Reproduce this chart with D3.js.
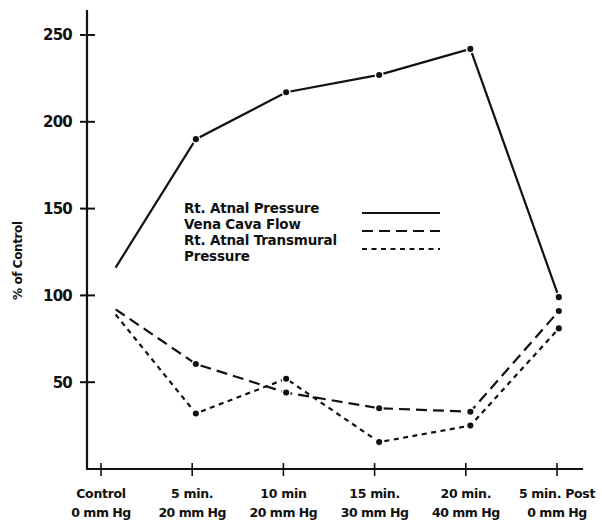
<!DOCTYPE html>
<html>
<head>
<meta charset="utf-8">
<script src="https://cdn.jsdelivr.net/npm/d3@7"></script>
<style>
  body { margin: 0; background: #fff; }
  svg { display: block; }
  text { font-family: "DejaVu Sans", "Liberation Sans", sans-serif; font-weight: bold; fill: #111; }
</style>
</head>
<body>
<svg id="chart" width="602" height="531"></svg>
<script>
// Stage positions on the x axis (index units); control readings sit just right of the tick
const stagePos = [0.16, 1.04, 2.03, 3.05, 4.05, 5.02];
const tickLines1 = ["Control", "5 min.", "10 min", "15 min.", "20 min.", "5 min. Post"];
const tickLines2 = ["0 mm Hg", "20 mm Hg", "20 mm Hg", "30 mm Hg", "40 mm Hg", "0 mm Hg"];
const yTicks = [50, 100, 150, 200, 250];

const atrialPressure = [116, 190, 217, 227, 242, 99];
const venaCavaFlow   = [92, 60.5, 44, 35, 33, 91];
const transmural     = [89, 32, 52, 15.5, 25, 81];

const seriesNames = ["Rt. Atnal Pressure", "Vena Cava Flow", "Rt. Atnal Transmural"];
const seriesDash  = [null, "11,6", "5,4.5"];
const seriesValues = [atrialPressure, venaCavaFlow, transmural];

const svg = d3.select("#chart");
const ink = "#111";

const x = d3.scaleLinear().domain([0, 5]).range([101, 557]);
const y = d3.scaleLinear().domain([0, 250]).range([469, 35]);

// y axis
svg.append("line").attr("x1", 87).attr("x2", 87).attr("y1", 10).attr("y2", y(0))
  .attr("stroke", ink).attr("stroke-width", 2.2);
const yt = svg.append("g").selectAll("g").data(yTicks).join("g")
  .attr("transform", d => `translate(0,${y(d)})`);
yt.append("line").attr("x1", 80).attr("x2", 95).attr("stroke", ink).attr("stroke-width", 2);
yt.append("text").attr("x", 72).attr("dy", "0.36em").attr("text-anchor", "end")
  .attr("font-size", 15).attr("letter-spacing", -0.8).text(d => d);

svg.append("text")
  .attr("transform", `translate(22,${y(120)}) rotate(-90)`)
  .attr("text-anchor", "middle").attr("font-size", 12).attr("letter-spacing", -0.4)
  .text("% of Control");

// x axis
svg.append("line").attr("x1", 86).attr("x2", 583).attr("y1", y(0)).attr("y2", y(0))
  .attr("stroke", ink).attr("stroke-width", 2);
const xt = svg.append("g").selectAll("g").data(d3.range(6)).join("g")
  .attr("transform", d => `translate(${x(d)},${y(0)})`);
xt.append("line").attr("y1", -6).attr("y2", 7).attr("stroke", ink).attr("stroke-width", 1.6);
xt.append("text").attr("y", 29).attr("text-anchor", "middle").attr("font-size", 12.5)
  .attr("letter-spacing", -0.3).text(d => tickLines1[d]);
xt.append("text").attr("y", 48).attr("text-anchor", "middle").attr("font-size", 12.5)
  .attr("letter-spacing", -0.5).text(d => tickLines2[d]);

// series lines and markers
const line = d3.line().x((d, i) => x(stagePos[i])).y(d => y(d));
seriesValues.forEach((vals, s) => {
  svg.append("path").datum(vals).attr("d", line)
    .attr("fill", "none").attr("stroke", ink).attr("stroke-width", 2.2)
    .attr("stroke-dasharray", seriesDash[s]);
});
seriesValues.forEach(vals => {
  svg.append("g").selectAll("circle").data(vals.slice(1)).join("circle")
    .attr("cx", (d, i) => x(stagePos[i + 1])).attr("cy", d => y(d))
    .attr("r", 3.8).attr("fill", ink).attr("stroke", "#fff").attr("stroke-width", 1.5);
});

// legend
const legendRows = [208, 224, 240];
const legendLineY = [213, 231, 249];
seriesNames.forEach((name, i) => {
  svg.append("text").attr("x", 184).attr("y", legendRows[i]).attr("dy", "0.36em")
    .attr("font-size", 13.5).attr("letter-spacing", -0.2).text(name);
  svg.append("line").attr("x1", 362).attr("x2", 440)
    .attr("y1", legendLineY[i]).attr("y2", legendLineY[i])
    .attr("stroke", ink).attr("stroke-width", 2)
    .attr("stroke-dasharray", seriesDash[i]);
});
svg.append("text").attr("x", 184).attr("y", 256).attr("dy", "0.36em")
  .attr("font-size", 13.5).attr("letter-spacing", -0.2).text("Pressure");
</script>
</body>
</html>
